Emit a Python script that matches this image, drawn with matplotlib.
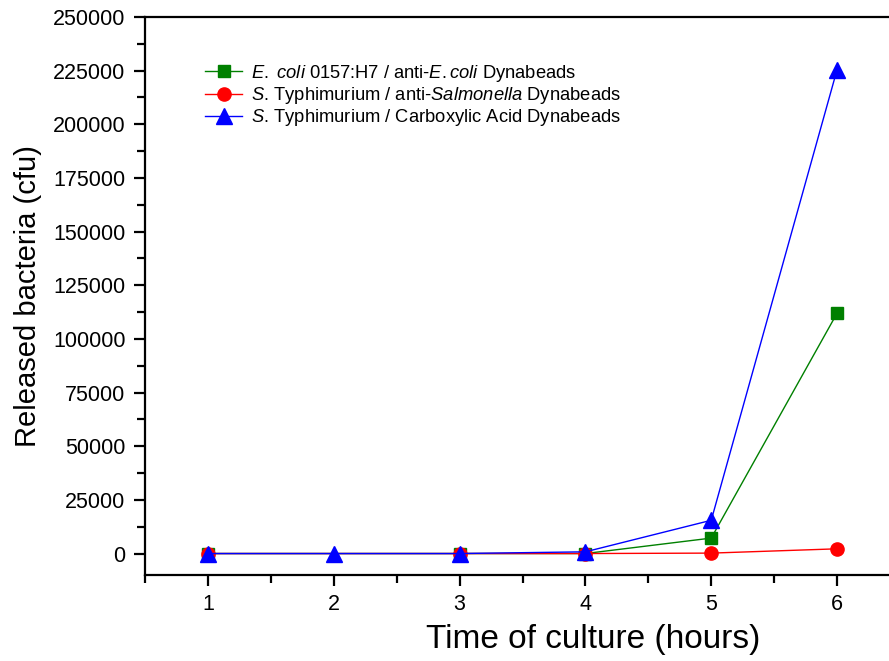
import matplotlib
matplotlib.use("Agg")
import matplotlib.pyplot as plt
from matplotlib.ticker import MultipleLocator

plt.rcParams['font.family'] = ['Liberation Sans', 'DejaVu Sans']
plt.rcParams['mathtext.fontset'] = 'custom'
plt.rcParams['mathtext.rm'] = 'Liberation Sans'
plt.rcParams['mathtext.it'] = 'Liberation Sans:italic'

hours_ecoli = [1, 3, 4, 5, 6]
ecoli = [0, 0, 0, 7200, 112000]
hours_salm = [1, 3, 4, 5, 6]
salm_anti = [0, 0, 0, 200, 2200]
hours_carb = [1, 2, 3, 4, 5, 6]
salm_carb = [0, 0, 0, 800, 15500, 225500]

labels = [
    r'$\mathit{E.\ coli}$ 0157:H7 / anti-$\mathit{E.coli}$ Dynabeads',
    r'$\mathit{S}$. Typhimurium / anti-$\mathit{Salmonella}$ Dynabeads',
    r'$\mathit{S}$. Typhimurium / Carboxylic Acid Dynabeads',
]

fig = plt.figure(figsize=(8.89, 6.61), dpi=100)
ax = fig.add_axes([145/889, 1-575/661, (900-145)/889, (575-17)/661])

ax.plot(hours_ecoli, ecoli, color='#008000', marker='s', ms=9, lw=1, label=labels[0])
ax.plot(hours_salm, salm_anti, color='#ff0000', marker='o', ms=9.5, lw=1, label=labels[1])
ax.plot(hours_carb, salm_carb, color='#0000ff', marker='^', ms=12, lw=1, label=labels[2])

ax.set_xlim(0.5, 6.5)
ax.set_ylim(-10000, 250000)
ax.xaxis.set_major_locator(MultipleLocator(1))
ax.xaxis.set_minor_locator(MultipleLocator(0.5))
ax.yaxis.set_major_locator(MultipleLocator(25000))
ax.yaxis.set_minor_locator(MultipleLocator(12500))
ax.tick_params(which='both', direction='out', width=1.6, labelsize=15.5)
ax.tick_params(which='major', length=8, pad=6)
ax.tick_params(which='minor', length=5.5)
for s in ax.spines.values():
    s.set_linewidth(1.6)

ax.set_xlabel('Time of culture (hours)', fontsize=24, labelpad=6)
ax.xaxis.label.set_x((593 - 145) / 755)
ax.set_ylabel('Released bacteria (cfu)', fontsize=21, labelpad=8)

leg = ax.legend(loc='upper left', bbox_to_anchor=(0.058, 0.948), frameon=False,
                fontsize=13.2, handlelength=2.0, labelspacing=0.08, handletextpad=0.5)

fig.savefig('out.png', dpi=100)
